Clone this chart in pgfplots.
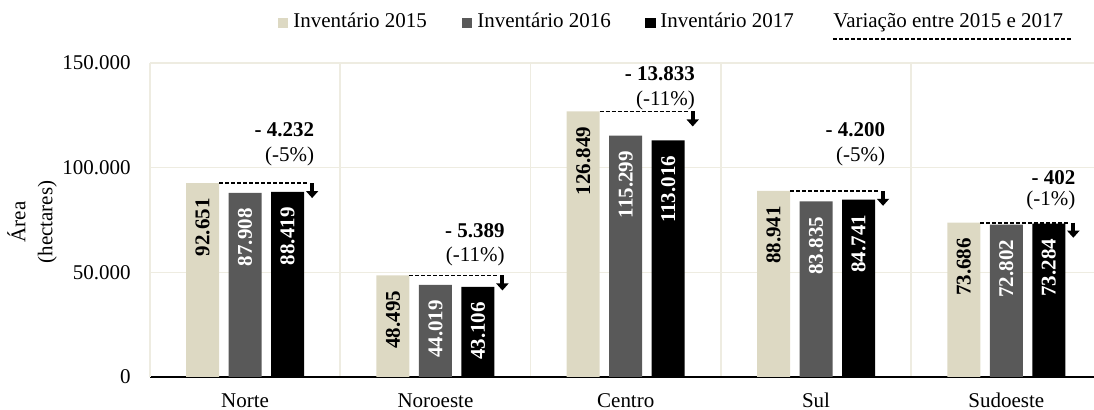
\documentclass[border=0pt]{standalone}
\usepackage{fontspec}
\setmainfont{Liberation Serif}
\usepackage{pgfplots}
\pgfplotsset{compat=1.18}
\usetikzlibrary{arrows.meta}

\definecolor{c15}{HTML}{DDD9C3}
\definecolor{c16}{HTML}{595959}
\definecolor{gridc}{HTML}{EEECE1}

\tikzset{
  varline/.style={black, line width=0.8pt, dash pattern=on 2pt off 1pt},
  vararrow/.style={black, line width=2pt, -{Triangle[width=6pt,length=3.5pt]}},
  varlab/.style={anchor=east, inner sep=0pt},
}

\begin{document}
\fontsize{10.5}{13.5}\selectfont
\begin{tikzpicture}
\useasboundingbox (-75pt,-16.5pt) rectangle (472pt,188.5pt);
\begin{axis}[
  at={(0,0)}, anchor=south west,
  width=472pt, height=157pt, scale only axis,
  xmin=-0.5, xmax=4.4606, ymin=0, ymax=150000,
  clip=false,
  ybar=4.75pt, bar width=16.5pt,
  axis x line*=bottom, axis y line*=left,
  x axis line style={black, line width=0.75pt, -},
  y axis line style={draw=gridc, line width=0.8pt, -},
  xtick={0,1,2,3,4},
  xticklabels={Norte,Noroeste,Centro,Sul,Sudoeste},
  minor xtick={-0.5,0.5,1.5,2.5,3.5},
  ytick={0,50000,100000,150000},
  scaled y ticks=false,
  major tick length=0pt, minor tick length=0pt,
  ymajorgrids, xminorgrids,
  grid style={gridc, line width=0.8pt},
  minor grid style={gridc, line width=0.8pt},
  /pgf/number format/fixed,
  /pgf/number format/precision=0,
  /pgf/number format/1000 sep={.},
  /pgf/number format/assume math mode=true,
  yticklabel style={anchor=east, inner sep=0pt, xshift=-9.5pt},
  xticklabel style={anchor=north, inner sep=0pt, yshift=-8pt},
  nodes near coords,
  every node near coord/.append style={rotate=90, anchor=east, inner xsep=7.5pt, inner ysep=0pt, font=\bfseries},
]

% Inventario 2015
\addplot[fill=c15, draw=none,
  every node near coord/.append style={text=black}]
  coordinates {(0,92651) (1,48495) (2,126849) (3,88941) (4,73686)};

% Inventario 2016
\addplot[fill=c16, draw=none,
  every node near coord/.append style={text=white}]
  coordinates {(0,87908) (1,44019) (2,115299) (3,83835) (4,72802)};

% Inventario 2017
\addplot[fill=black, draw=none,
  every node near coord/.append style={text=white}]
  coordinates {(0,88419) (1,43106) (2,113016) (3,84741) (4,73284)};

% variacao 2015 -> 2017
\draw[varline] (axis cs:-0.137,92651) -- (axis cs:0.33,92651);
\draw[vararrow] (axis cs:0.352,92651) -- ([yshift=-7.5pt]axis cs:0.352,92651);
\node[varlab, font=\bfseries] at (axis cs:0.365,117994) {- 4.232};
\node[varlab] at (axis cs:0.365,105573) {(-5\%)};

\draw[varline] (axis cs:0.863,48495) -- (axis cs:1.33,48495);
\draw[vararrow] (axis cs:1.352,48495) -- ([yshift=-7.5pt]axis cs:1.352,48495);
\node[varlab, font=\bfseries] at (axis cs:1.365,69745) {- 5.389};
\node[varlab] at (axis cs:1.365,57803) {(-11\%)};

\draw[varline] (axis cs:1.863,126849) -- (axis cs:2.33,126849);
\draw[vararrow] (axis cs:2.352,126849) -- ([yshift=-7.5pt]axis cs:2.352,126849);
\node[varlab, font=\bfseries] at (axis cs:2.365,144745) {- 13.833};
\node[varlab] at (axis cs:2.365,132325) {(-11\%)};

\draw[varline] (axis cs:2.863,88941) -- (axis cs:3.33,88941);
\draw[vararrow] (axis cs:3.352,88941) -- ([yshift=-7.5pt]axis cs:3.352,88941);
\node[varlab, font=\bfseries] at (axis cs:3.365,117994) {- 4.200};
\node[varlab] at (axis cs:3.365,105573) {(-5\%)};

\draw[varline] (axis cs:3.863,73686) -- (axis cs:4.33,73686);
\draw[vararrow] (axis cs:4.352,73686) -- ([yshift=-7.5pt]axis cs:4.352,73686);
\node[varlab, font=\bfseries] at (axis cs:4.365,95064) {- 402};
\node[varlab] at (axis cs:4.365,84554) {(-1\%)};
\end{axis}

% legend and y label, in pixel units of the reference
\begin{scope}[x=0.5pt, y=-0.5pt, shift={(-75pt,188.5pt)}]
  \fill[c15] (278,18) rectangle (288,28);
  \node[anchor=base west, inner sep=0pt] at (293,28) {Inventário 2015};
  \fill[c16] (462,18) rectangle (472,28);
  \node[anchor=base west, inner sep=0pt] at (477,28) {Inventário 2016};
  \fill[black] (645,18) rectangle (656,28);
  \node[anchor=base west, inner sep=0pt] at (660,28) {Inventário 2017};
  \node[anchor=base west, inner sep=0pt] at (833,28) {Variação entre 2015 e 2017};
  \draw[varline] (833,39) -- (1072,39);
  \node[rotate=90, align=center] at (32,222) {Área\\(hectares)};
\end{scope}
\end{tikzpicture}
\end{document}
